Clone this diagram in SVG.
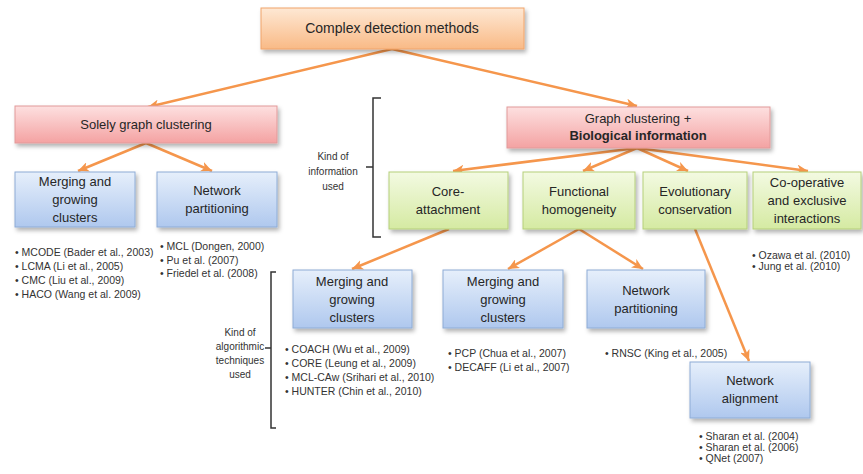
<svg xmlns="http://www.w3.org/2000/svg" width="863" height="474" viewBox="0 0 863 474">
<style>
.box text{font-family:"Liberation Sans",Arial,sans-serif;font-size:13px;fill:#262626;text-anchor:middle}
.lbl{font-family:"Liberation Sans",Arial,sans-serif;font-size:10.5px;fill:#333}
.side{font-family:"Liberation Sans",Arial,sans-serif;font-size:10px;fill:#333;text-anchor:middle}
.conn line{stroke:#F5964C;stroke-width:2.5;marker-end:url(#ah)}
.br{fill:none;stroke:#333;stroke-width:1.5}
.o{fill:url(#gO);stroke:#F0A46A;stroke-width:1}
.r{fill:url(#gR);stroke:#E29A9A;stroke-width:1}
.g{fill:url(#gG);stroke:#B5CF7A;stroke-width:1}
.b{fill:url(#gB);stroke:#8EACD6;stroke-width:1}
</style>
<defs>
<linearGradient id="gO" x1="0" y1="0" x2="0" y2="1"><stop offset="0" stop-color="#FEE8D4"/><stop offset="1" stop-color="#F9BA86"/></linearGradient>
<linearGradient id="gR" x1="0" y1="0" x2="0" y2="1"><stop offset="0" stop-color="#FDE0E0"/><stop offset="1" stop-color="#F4A2A2"/></linearGradient>
<linearGradient id="gG" x1="0" y1="0" x2="0" y2="1"><stop offset="0" stop-color="#F3FAE2"/><stop offset="1" stop-color="#D5EAA2"/></linearGradient>
<linearGradient id="gB" x1="0" y1="0" x2="0" y2="1"><stop offset="0" stop-color="#E6EFFB"/><stop offset="1" stop-color="#AFC8EE"/></linearGradient>
<filter id="sh" x="-10%" y="-20%" width="130%" height="160%"><feDropShadow dx="2" dy="3" stdDeviation="2" flood-color="#000" flood-opacity="0.3"/></filter>
<marker id="ah" markerUnits="userSpaceOnUse" markerWidth="12" markerHeight="10" refX="11" refY="5" orient="auto"><path d="M0,0 L11,5 L0,10 L3,5 Z" fill="#F5964C"/></marker>
</defs>
<rect width="863" height="474" fill="#fff"/>

<g id="connectors" class="conn">
<line x1="392" y1="49" x2="148" y2="107"/>
<line x1="392" y1="49" x2="637" y2="106"/>
<line x1="146" y1="143" x2="78" y2="171"/>
<line x1="146" y1="143" x2="212" y2="171"/>
<line x1="637" y1="148" x2="453" y2="171"/>
<line x1="637" y1="148" x2="583" y2="171"/>
<line x1="637" y1="148" x2="688" y2="171"/>
<line x1="637" y1="148" x2="808" y2="171"/>
<line x1="449" y1="229" x2="352" y2="269"/>
<line x1="579" y1="229" x2="508" y2="269"/>
<line x1="579" y1="229" x2="643" y2="269"/>
<line x1="695" y1="229" x2="749" y2="361"/>
</g>

<g id="n-complex" class="box"><rect class="o" x="261" y="8" width="263" height="41" filter="url(#sh)"/><text x="392" y="33" style="font-size:14px">Complex detection methods</text></g>

<g id="n-solely" class="box"><rect class="r" x="15" y="106" width="262" height="37" filter="url(#sh)"/><text x="146" y="129">Solely graph clustering</text></g>

<g id="n-graphbio" class="box"><rect class="r" x="507" y="107" width="263" height="41" filter="url(#sh)"/><text x="638" y="123">Graph clustering +</text><text x="638" y="140" font-weight="bold">Biological  information</text></g>

<g id="n-merge1" class="box"><rect class="b" x="15" y="172" width="120" height="55" filter="url(#sh)"/><text x="75" y="186">Merging and</text><text x="75" y="204">growing</text><text x="75" y="222">clusters</text></g>

<g id="n-netpart1" class="box"><rect class="b" x="157" y="172" width="120" height="55" filter="url(#sh)"/><text x="217" y="195">Network</text><text x="217" y="213">partitioning</text></g>

<g id="n-core" class="box"><rect class="g" x="389" y="172" width="119" height="57" filter="url(#sh)"/><text x="448" y="196">Core-</text><text x="448" y="214">attachment</text></g>

<g id="n-func" class="box"><rect class="g" x="523" y="172" width="112" height="57" filter="url(#sh)"/><text x="579" y="196">Functional</text><text x="579" y="214">homogeneity</text></g>

<g id="n-evol" class="box"><rect class="g" x="643" y="172" width="104" height="57" filter="url(#sh)"/><text x="695" y="196">Evolutionary</text><text x="695" y="214">conservation</text></g>

<g id="n-coop" class="box"><rect class="g" x="753" y="172" width="108" height="57" filter="url(#sh)"/><text x="807" y="187">Co-operative</text><text x="807" y="205">and exclusive</text><text x="807" y="223">interactions</text></g>

<g id="n-merge2" class="box"><rect class="b" x="293" y="270" width="119" height="58" filter="url(#sh)"/><text x="352" y="286">Merging and</text><text x="352" y="304">growing</text><text x="352" y="322">clusters</text></g>

<g id="n-merge3" class="box"><rect class="b" x="443" y="270" width="120" height="58" filter="url(#sh)"/><text x="503" y="286">Merging and</text><text x="503" y="304">growing</text><text x="503" y="322">clusters</text></g>

<g id="n-netpart2" class="box"><rect class="b" x="587" y="270" width="118" height="58" filter="url(#sh)"/><text x="646" y="295">Network</text><text x="646" y="313">partitioning</text></g>

<g id="n-netalign" class="box"><rect class="b" x="690" y="362" width="120" height="56" filter="url(#sh)"/><text x="750" y="385">Network</text><text x="750" y="403">alignment</text></g>

<g id="lists" class="lbl">
<text x="15" y="256">• MCODE (Bader et al., 2003)</text>
<text x="15" y="270">• LCMA (Li et al., 2005)</text>
<text x="15" y="284">• CMC (Liu et al., 2009)</text>
<text x="15" y="298">• HACO (Wang et al. 2009)</text>
<text x="160" y="250">• MCL (Dongen, 2000)</text>
<text x="160" y="263.5">• Pu et al. (2007)</text>
<text x="160" y="277">• Friedel et al. (2008)</text>
<text x="285" y="353">• COACH (Wu et al., 2009)</text>
<text x="285" y="367">• CORE (Leung et al., 2009)</text>
<text x="285" y="381">• MCL-CAw (Srihari et al., 2010)</text>
<text x="285" y="395">• HUNTER (Chin et al., 2010)</text>
<text x="448" y="357">• PCP (Chua et al., 2007)</text>
<text x="448" y="371">• DECAFF (Li et al., 2007)</text>
<text x="605" y="357">• RNSC (King et al., 2005)</text>
<text x="752" y="259">• Ozawa et al. (2010)</text>
<text x="752" y="270">• Jung et al. (2010)</text>
<text x="699" y="440">• Sharan et al. (2004)</text>
<text x="699" y="451">• Sharan et al. (2006)</text>
<text x="699" y="462">• QNet (2007)</text>
</g>

<g id="bracket-info">
<path class="br" d="M381,98 H373 V237 H381 M373,167 H366"/>
<text class="side" x="333" y="160">Kind of</text>
<text class="side" x="333" y="175">information</text>
<text class="side" x="333" y="190">used</text>
</g>

<g id="bracket-algo">
<path class="br" d="M276,272 H271 V428 H276 M271,348 H265"/>
<text class="side" x="240" y="336">Kind of</text>
<text class="side" x="240" y="350">algorithmic</text>
<text class="side" x="240" y="364">techniques</text>
<text class="side" x="240" y="378">used</text>
</g>
</svg>
